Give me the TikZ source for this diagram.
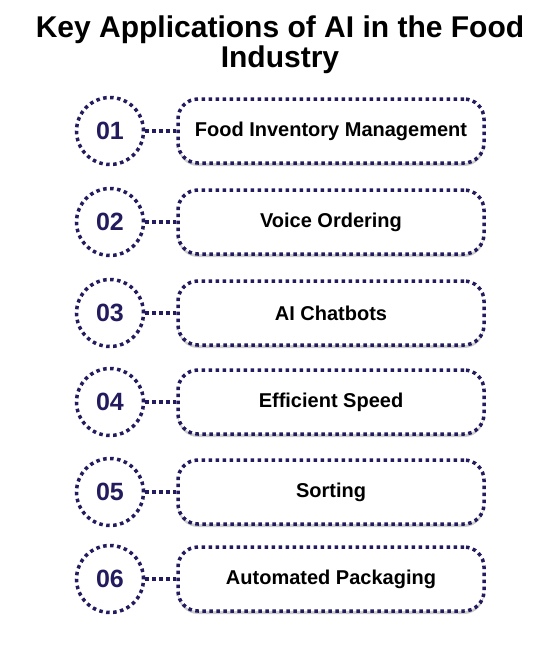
\documentclass[tikz,border=0pt]{standalone}
\usepackage{fontspec}
\setmainfont{Liberation Sans}
\usepackage{tikz}
\usetikzlibrary{positioning, shadows}

\definecolor{navy}{HTML}{221B5E}

\begin{document}
\begin{tikzpicture}[
    x=1pt, y=-1pt,
    node distance=1cm and 31pt,
    dots/.style={draw=navy, line width=3.5pt, dash pattern=on 3.5pt off 3.5pt},
    numcircle/.style={circle, dots, fill=white, minimum size=67pt, inner sep=0pt, text=navy, font=\fontsize{25}{27}\selectfont\bfseries},
    appbox/.style={rectangle, dots, rounded corners=20pt, fill=white, minimum width=306pt, minimum height=64pt, font=\fontsize{20}{22}\selectfont\bfseries,
        drop shadow={opacity=0.2, shadow xshift=0pt, shadow yshift=-3pt, fill=black}},
    link/.style={dots}
]
\useasboundingbox (0,0) rectangle (560,654);

% title
\node[font=\fontsize{30}{30}\selectfont\bfseries, align=center] (title) at (280,45) {Key Applications of AI in the Food\\Industry};

% rows
\node[numcircle] (n1) at (110,131) {01};
\node[appbox, right=of n1] (b1) {Food Inventory Management};

\node[numcircle] (n2) at (110,222) {02};
\node[appbox, right=of n2] (b2) {Voice Ordering};

\node[numcircle] (n3) at (110,313) {03};
\node[appbox, right=of n3] (b3) {AI Chatbots};

\node[numcircle] (n4) at (110,402) {04};
\node[appbox, right=of n4] (b4) {Efficient Speed};

\node[numcircle] (n5) at (110,492) {05};
\node[appbox, right=of n5] (b5) {Sorting};

\node[numcircle] (n6) at (110,579) {06};
\node[appbox, right=of n6] (b6) {Automated Packaging};

\foreach \i in {1,...,6}
    \draw[link] (n\i) -- (b\i);

\end{tikzpicture}
\end{document}
